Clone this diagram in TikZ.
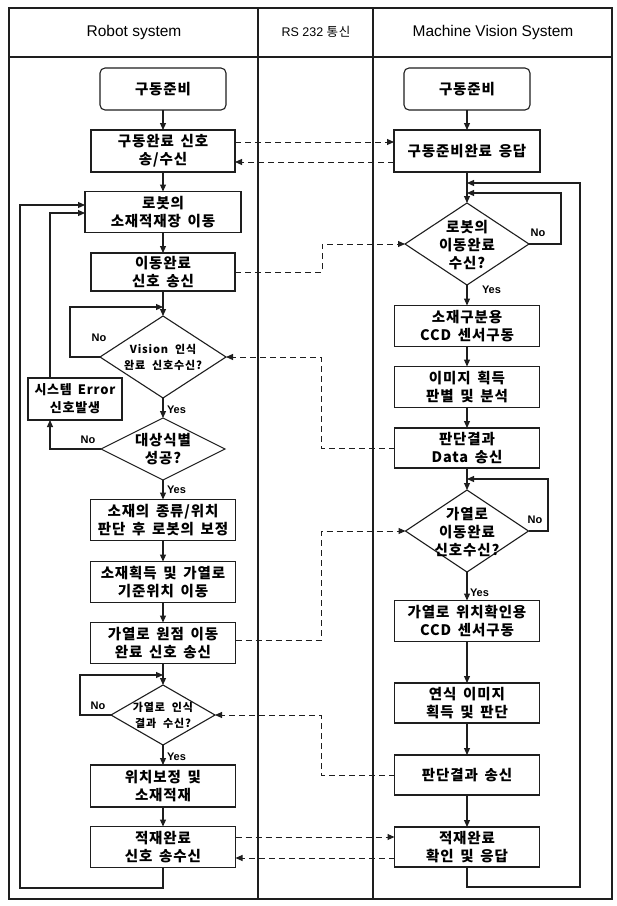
\documentclass[tikz,border=0pt]{standalone}
\usepackage{fontspec}
\newfontfamily\kr{Noto Sans CJK KR}[WordSpace=1.6,LetterSpace=6]
\newfontfamily\krs{Noto Sans CJK KR}[WordSpace=2,LetterSpace=8]
\newfontfamily\hd{Liberation Sans}
\usetikzlibrary{arrows.meta,shapes.geometric}
\definecolor{ln}{HTML}{1E1E1E}
\begin{document}
\begin{tikzpicture}[x=1pt,y=-1pt,
  every node/.style={inner sep=0pt, outer sep=0pt},
  proc/.style={draw=ln, line width=1.1pt, minimum width=145pt, minimum height=41pt, align=center, font=\kr\bfseries\fontsize{14.5}{18}\selectfont},
  startbox/.style={proc, rounded corners=5pt, minimum width=126pt, minimum height=42pt},
  dia/.style={draw=ln, line width=1.1pt, diamond},
  dtext/.style={align=center, font=\kr\bfseries\fontsize{14.5}{18}\selectfont},
  dsmall/.style={align=center, font=\krs\bfseries\fontsize{11}{16}\selectfont},
  flow/.style={line width=1.1pt, draw=ln, -{Triangle[length=7pt,width=6pt]}},
  sig/.style={line width=1pt, draw=ln, dash pattern=on 6pt off 4pt, -{Triangle[length=7pt,width=6pt]}},
  lbl/.style={font=\hd\bfseries\fontsize{11}{12}\selectfont},
  head/.style={font=\hd\fontsize{15.5}{17}\selectfont}]
\useasboundingbox[fill=white] (0,0) rectangle (617,906);
% frame and lanes
\draw[ln, line width=1.6pt] (9,8) rectangle (612,899);
\draw[ln, line width=1.1pt] (9,57) -- (612,57);
\draw[ln, line width=1.1pt] (258,8) -- (258,899);
\draw[ln, line width=1.1pt] (373,8) -- (373,899);
\node[head] (hL) at (134,32) {Robot system};
\node[font=\hd\fontsize{12.5}{14}\selectfont] (hM) at (316,32) {RS 232 {\kr 통신}};
\node[head] (hR) at (493,32) {Machine Vision System};
% left column
\node[startbox] (LA) at (163,89) {구동준비};
\node[proc, minimum width=144pt, minimum height=42pt] (LB) at (163,151) {구동완료 신호\\송/수신};
\node[proc, minimum width=156pt] (LC) at (163,212) {로봇의\\소재적재장 이동};
\node[proc, minimum width=144pt, minimum height=38pt] (LD) at (163,272) {이동완료\\신호 송신};
\node[dia, minimum width=126pt, minimum height=82pt] (LE) at (163,357) {};
\node[dsmall] (LEt) at (163,357) {Vision 인식\\완료 신호수신?};
\node[proc, minimum width=94pt, minimum height=42pt, font=\kr\bfseries\fontsize{13}{18}\selectfont] (LF) at (75,399) {시스템 Error\\신호발생};
\node[dia, minimum width=124pt, minimum height=62pt] (LG) at (163,449) {};
\node[dtext] (LGt) at (163,449) {대상식별\\성공?};
\node[proc] (LH) at (163,520) {소재의 종류/위치\\판단 후 로봇의 보정};
\node[proc] (LI) at (163,582) {소재획득 및 가열로\\기준위치 이동};
\node[proc] (LJ) at (163,643) {가열로 원점 이동\\완료 신호 송신};
\node[dia, minimum width=104pt, minimum height=60pt] (LK) at (163,715) {};
\node[dsmall] (LKt) at (163,715) {가열로 인식\\결과 수신?};
\node[proc, minimum height=42pt] (LL) at (163,786) {위치보정 및\\소재적재};
\node[proc] (LM) at (163,847) {적재완료\\신호 송수신};
% right column
\node[startbox] (RA) at (467,89) {구동준비};
\node[proc, minimum width=146pt, minimum height=42pt] (RB) at (467,151) {구동준비완료 응답};
\node[dia, minimum width=124pt, minimum height=82pt] (RC) at (467,244) {};
\node[dtext] (RCt) at (467,245) {로봇의\\이동완료\\수신?};
\node[proc] (RD) at (467,326) {소재구분용\\CCD 센서구동};
\node[proc] (RE) at (467,387) {이미지 획득\\판별 및 분석};
\node[proc, minimum height=40pt] (RF) at (467,448) {판단결과\\Data 송신};
\node[dia, minimum width=123pt, minimum height=82pt] (RG) at (467,531) {};
\node[dtext] (RGt) at (467,532) {가열로\\이동완료\\신호수신?};
\node[proc] (RH) at (467,621) {가열로 위치확인용\\CCD 센서구동};
\node[proc, minimum height=40pt] (RI) at (467,703) {연식 이미지\\획득 및 판단};
\node[proc, minimum height=40pt] (RJ) at (467,775) {판단결과 송신};
\node[proc, minimum height=40pt] (RK) at (467,847) {적재완료\\확인 및 응답};
% main flow left
\draw[flow] (LA) -- (LB);
\draw[flow] (LB) -- (LC);
\draw[flow] (LC) -- (LD);
\draw[flow] (LD) -- (LE);
\draw[flow] (LE) -- (LG);
\draw[flow] (LG) -- (LH);
\draw[flow] (LH) -- (LI);
\draw[flow] (LI) -- (LJ);
\draw[flow] (LJ) -- (LK);
\draw[flow] (LK) -- (LL);
\draw[flow] (LL) -- (LM);
% main flow right
\draw[flow] (RA) -- (RB);
\draw[flow] (RB) -- (RC);
\draw[flow] (RC) -- (RD);
\draw[flow] (RD) -- (RE);
\draw[flow] (RE) -- (RF);
\draw[flow] (RF) -- (RG);
\draw[flow] (RG) -- (RH);
\draw[flow] (RH) -- (RI);
\draw[flow] (RI) -- (RJ);
\draw[flow] (RJ) -- (RK);
% loops left
\draw[flow] (LE.west) -- (70,357) |- (163,307);
\draw[flow] (LG.west) -| ([xshift=-25pt]LF.south);
\draw[flow] ([xshift=-25pt]LF.north) |- ([yshift=-1pt]LC.west);
\draw[flow] (LM.south) |- (20,888) |- ([yshift=7pt]LC.west);
\draw[flow] (LK.west) -- (80,715) |- (163,675);
% loops right
\draw[flow] (RC.east) -- (561,244) |- (467,193);
\draw[flow] (RK.south) |- (580,887) |- (467,183);
\draw[flow] (RG.east) -- (548,531) |- (467,479);
% yes / no labels
\node[lbl] (n1) at (99,338) {No};
\node[lbl] (n2) at (88,440) {No};
\node[lbl] (n3) at (98,706) {No};
\node[lbl] (n4) at (538,233) {No};
\node[lbl] (n5) at (535,520) {No};
\node[lbl, anchor=west] (y1) at (167,410) {Yes};
\node[lbl, anchor=west] (y2) at (167,490) {Yes};
\node[lbl, anchor=west] (y3) at (167,757) {Yes};
\node[lbl, anchor=west] (y4) at (482,290) {Yes};
\node[lbl, anchor=west] (y5) at (470,593) {Yes};
% RS232 signals
\draw[sig] ([yshift=9pt]LB.east) -- ([yshift=9pt]RB.west);
\draw[sig] ([yshift=-11pt]RB.west) -- ([yshift=-11pt]LB.east);
\draw[sig] (LD.east) -| (322,244) -- (RC.west);
\draw[sig] (RF.west) -| (321,357) -- (LE.east);
\draw[sig] ([yshift=3pt]LJ.east) -| (321,531) -- (RG.west);
\draw[sig] (RJ.west) -| (321,715) -- (LK.east);
\draw[sig] ([yshift=10pt]LM.east) -- ([yshift=10pt]RK.west);
\draw[sig] ([yshift=-11pt]RK.west) -- ([yshift=-11pt]LM.east);
\end{tikzpicture}
\end{document}
